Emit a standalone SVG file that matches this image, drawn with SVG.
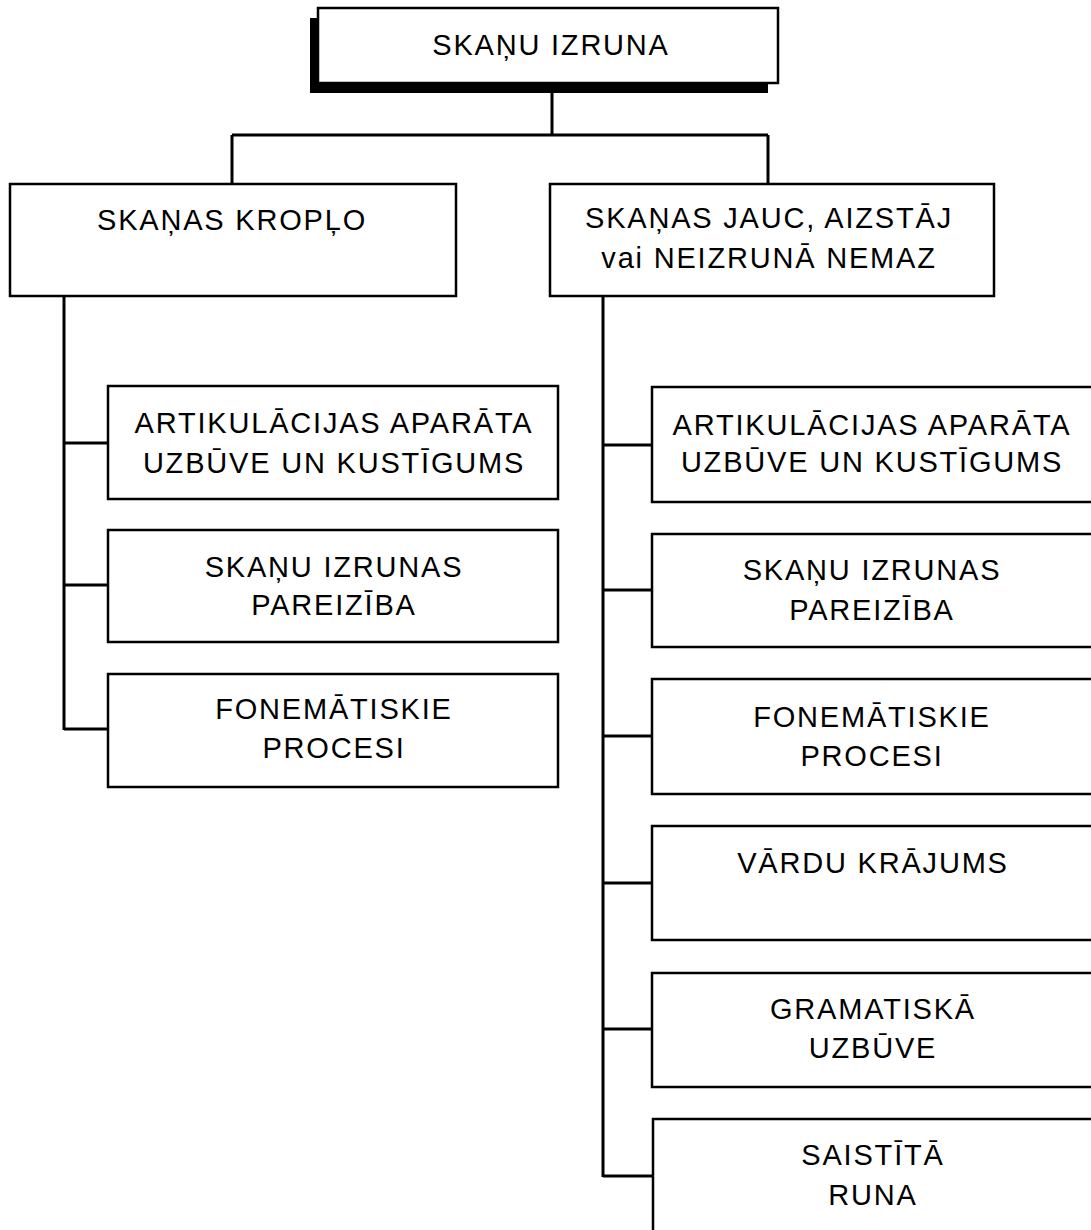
<svg xmlns="http://www.w3.org/2000/svg" width="1091" height="1230" viewBox="0 0 1091 1230">
<style>
.box{fill:#fff;stroke:#000;stroke-width:2.5}
.t{font-family:"Liberation Sans",Arial,sans-serif;font-size:29px;letter-spacing:1.8px;text-anchor:middle;fill:#000}
.c{fill:none;stroke:#000;stroke-width:3}
</style>
<rect width="1091" height="1230" fill="#fff"/>
<g id="connectors">
<path class="c" d="M552 93V135M232 135H768M232 135V184M768 135V184"/>
<path class="c" d="M64 296V730M64 443H108M64 585H108M64 729H108"/>
<path class="c" d="M603 296V1177M603 445H652M603 590H652M603 736H652M603 883H652M603 1029H652M603 1176H653"/>
</g>
<g id="root">
<rect x="310" y="18" width="458" height="75" fill="#000"/>
<rect class="box" x="318" y="8" width="460" height="75"/>
<text class="t" x="551" y="55">SKAŅU IZRUNA</text>
</g>
<g id="kroplo">
<rect class="box" x="10" y="184" width="446" height="112"/>
<text class="t" x="232" y="230">SKAŅAS KROPĻO</text>
</g>
<g id="jauc">
<rect class="box" x="550" y="184" width="444" height="112"/>
<text class="t" x="769" y="228">SKAŅAS JAUC, AIZSTĀJ</text>
<text class="t" x="769" y="268">vai NEIZRUNĀ NEMAZ</text>
</g>
<g id="l1">
<rect class="box" x="108" y="386" width="450" height="113"/>
<text class="t" x="334" y="433">ARTIKULĀCIJAS APARĀTA</text>
<text class="t" x="334" y="473">UZBŪVE UN KUSTĪGUMS</text>
</g>
<g id="l2">
<rect class="box" x="108" y="530" width="450" height="112"/>
<text class="t" x="334" y="577">SKAŅU IZRUNAS</text>
<text class="t" x="334" y="615">PAREIZĪBA</text>
</g>
<g id="l3">
<rect class="box" x="108" y="674" width="450" height="113"/>
<text class="t" x="334" y="719">FONEMĀTISKIE</text>
<text class="t" x="334" y="758">PROCESI</text>
</g>
<g id="r1">
<rect class="box" x="652" y="387" width="450" height="115"/>
<text class="t" x="872" y="435">ARTIKULĀCIJAS APARĀTA</text>
<text class="t" x="872" y="472">UZBŪVE UN KUSTĪGUMS</text>
</g>
<g id="r2">
<rect class="box" x="652" y="534" width="450" height="113"/>
<text class="t" x="872" y="580">SKAŅU IZRUNAS</text>
<text class="t" x="872" y="620">PAREIZĪBA</text>
</g>
<g id="r3">
<rect class="box" x="652" y="679" width="450" height="115"/>
<text class="t" x="872" y="727">FONEMĀTISKIE</text>
<text class="t" x="872" y="766">PROCESI</text>
</g>
<g id="r4">
<rect class="box" x="652" y="826" width="450" height="114"/>
<text class="t" x="873" y="873">VĀRDU KRĀJUMS</text>
</g>
<g id="r5">
<rect class="box" x="652" y="973" width="450" height="114"/>
<text class="t" x="873" y="1019">GRAMATISKĀ</text>
<text class="t" x="873" y="1058">UZBŪVE</text>
</g>
<g id="r6">
<rect class="box" x="653" y="1119" width="450" height="130"/>
<text class="t" x="873" y="1165">SAISTĪTĀ</text>
<text class="t" x="873" y="1205">RUNA</text>
</g>
</svg>
